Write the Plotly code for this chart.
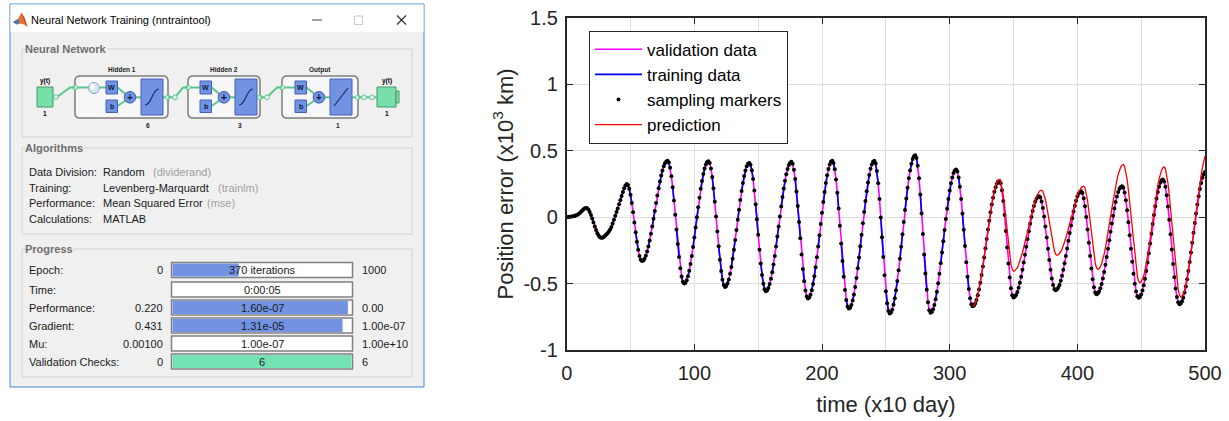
import plotly.graph_objects as go

W, H = 1229, 421

# ---------------- chart data ----------------
t = list(range(501))
position_error = [
    0.000, 0.002, 0.003, 0.004, 0.005, 0.007, 0.009, 0.012, 0.016, 0.022,
    0.030, 0.039, 0.049, 0.058, 0.065, 0.069, 0.068, 0.058, 0.040, 0.017,
    -0.010, -0.040, -0.070, -0.097, -0.120, -0.138, -0.150, -0.155, -0.154, -0.148,
    -0.140, -0.131, -0.120, -0.108, -0.093, -0.073, -0.048, -0.020, 0.010, 0.040,
    0.066, 0.097, 0.128, 0.160, 0.190, 0.217, 0.238, 0.250, 0.243, 0.214,
    0.168, 0.107, 0.037, -0.039, -0.114, -0.184, -0.245, -0.291, -0.320, -0.330,
    -0.325, -0.312, -0.289, -0.258, -0.220, -0.175, -0.124, -0.070, -0.012, 0.047,
    0.106, 0.164, 0.218, 0.269, 0.314, 0.352, 0.383, 0.406, 0.419, 0.424,
    0.411, 0.371, 0.308, 0.225, 0.126, 0.018, -0.093, -0.201, -0.300, -0.383,
    -0.446, -0.486, -0.499, -0.493, -0.474, -0.444, -0.402, -0.351, -0.291, -0.224,
    -0.152, -0.077, -0.001, 0.074, 0.146, 0.213, 0.273, 0.324, 0.366, 0.396,
    0.415, 0.421, 0.407, 0.367, 0.302, 0.217, 0.116, 0.005, -0.108, -0.219,
    -0.320, -0.405, -0.470, -0.510, -0.524, -0.518, -0.499, -0.468, -0.426, -0.374,
    -0.313, -0.245, -0.172, -0.097, -0.020, 0.056, 0.129, 0.197, 0.258, 0.310,
    0.352, 0.383, 0.402, 0.408, 0.394, 0.353, 0.287, 0.200, 0.097, -0.016,
    -0.132, -0.245, -0.348, -0.435, -0.501, -0.542, -0.556, -0.550, -0.532, -0.503,
    -0.463, -0.414, -0.356, -0.291, -0.220, -0.146, -0.070, 0.006, 0.080, 0.151,
    0.216, 0.274, 0.323, 0.363, 0.392, 0.410, 0.416, 0.401, 0.357, 0.287,
    0.194, 0.085, -0.036, -0.159, -0.280, -0.389, -0.482, -0.552, -0.596, -0.611,
    -0.604, -0.583, -0.549, -0.502, -0.444, -0.377, -0.301, -0.221, -0.136, -0.051,
    0.033, 0.114, 0.189, 0.257, 0.315, 0.362, 0.396, 0.417, 0.424, 0.408,
    0.360, 0.284, 0.184, 0.065, -0.065, -0.198, -0.329, -0.447, -0.547, -0.623,
    -0.671, -0.687, -0.680, -0.660, -0.627, -0.581, -0.524, -0.458, -0.384, -0.303,
    -0.218, -0.132, -0.045, 0.040, 0.121, 0.195, 0.261, 0.318, 0.364, 0.397,
    0.417, 0.424, 0.405, 0.347, 0.256, 0.137, -0.002, -0.150, -0.299, -0.437,
    -0.556, -0.647, -0.705, -0.724, -0.717, -0.695, -0.659, -0.610, -0.550, -0.479,
    -0.399, -0.313, -0.222, -0.129, -0.036, 0.055, 0.141, 0.221, 0.292, 0.352,
    0.401, 0.437, 0.459, 0.466, 0.446, 0.387, 0.293, 0.170, 0.027, -0.127,
    -0.280, -0.423, -0.546, -0.640, -0.699, -0.719, -0.712, -0.693, -0.660, -0.616,
    -0.561, -0.497, -0.425, -0.347, -0.265, -0.181, -0.096, -0.014, 0.064, 0.136,
    0.200, 0.255, 0.299, 0.332, 0.351, 0.358, 0.343, 0.299, 0.229, 0.136,
    0.027, -0.094, -0.217, -0.338, -0.447, -0.540, -0.610, -0.654, -0.669, -0.664,
    -0.648, -0.622, -0.587, -0.543, -0.492, -0.434, -0.370, -0.303, -0.233, -0.163,
    -0.093, -0.026, 0.038, 0.096, 0.147, 0.191, 0.226, 0.252, 0.268, 0.273,
    0.255, 0.203, 0.122, 0.017, -0.103, -0.228, -0.348, -0.453, -0.534, -0.586,
    -0.604, -0.599, -0.585, -0.563, -0.531, -0.492, -0.447, -0.396, -0.341, -0.283,
    -0.223, -0.163, -0.105, -0.050, 0.001, 0.046, 0.085, 0.117, 0.139, 0.153,
    0.158, 0.148, 0.118, 0.069, 0.005, -0.070, -0.153, -0.238, -0.321, -0.396,
    -0.460, -0.509, -0.539, -0.549, -0.544, -0.531, -0.509, -0.478, -0.440, -0.396,
    -0.346, -0.292, -0.235, -0.177, -0.119, -0.062, -0.008, 0.042, 0.086, 0.124,
    0.155, 0.177, 0.190, 0.195, 0.182, 0.143, 0.082, 0.002, -0.092, -0.192,
    -0.292, -0.386, -0.466, -0.527, -0.566, -0.579, -0.574, -0.559, -0.535, -0.502,
    -0.460, -0.412, -0.357, -0.299, -0.237, -0.173, -0.110, -0.048, 0.011, 0.066,
    0.114, 0.156, 0.189, 0.213, 0.228, 0.233, 0.221, 0.185, 0.128, 0.052,
    -0.038, -0.136, -0.237, -0.335, -0.425, -0.501, -0.558, -0.594, -0.606, -0.600,
    -0.582, -0.552, -0.512, -0.463, -0.405, -0.340, -0.271, -0.198, -0.125, -0.052,
    0.017, 0.082, 0.140, 0.189, 0.229, 0.259, 0.277, 0.283, 0.269, 0.229,
    0.165, 0.081, -0.019, -0.129, -0.242, -0.352, -0.452, -0.536, -0.600, -0.640,
    -0.654, -0.648, -0.632, -0.605, -0.567, -0.521, -0.466, -0.404, -0.337, -0.266,
    -0.192, -0.117, -0.043, 0.028, 0.095, 0.157, 0.212, 0.258, 0.296, 0.323,
    0.339,
]

train_end = 318
val_idx = [3, 7, 8, 12, 19, 22, 23, 29, 34, 38, 41, 45, 52, 53, 57, 63, 66, 70, 71,
           76, 82, 85, 89, 94, 97, 98, 104, 109, 113, 117, 118, 124, 128, 133, 136,
           141, 142, 147, 151, 156, 160, 163, 167, 172, 173, 178, 184, 187, 191, 196,
           199, 200, 205, 211, 214, 218, 223, 226, 227, 232, 238, 241, 245, 249, 254,
           255, 260, 264, 268, 273, 276, 279, 283, 288, 291, 292, 297, 302, 306, 309,
           313, 316]

pred_t = list(range(318, 501))
prediction = [
    -0.669, -0.664,
    -0.648, -0.622, -0.586, -0.542, -0.490, -0.431, -0.367, -0.299, -0.229, -0.157,
    -0.087, -0.019, 0.045, 0.104, 0.156, 0.200, 0.236, 0.262, 0.278, 0.283,
    0.269, 0.228, 0.164, 0.082, -0.013, -0.111, -0.205, -0.287, -0.351, -0.392,
    -0.406, -0.403, -0.394, -0.379, -0.358, -0.332, -0.301, -0.266, -0.228, -0.187,
    -0.145, -0.102, -0.058, -0.016, 0.025, 0.063, 0.098, 0.129, 0.155, 0.176,
    0.191, 0.200, 0.203, 0.195, 0.170, 0.131, 0.081, 0.022, -0.042, -0.105,
    -0.164, -0.214, -0.253, -0.278, -0.286, -0.283, -0.275, -0.260, -0.241, -0.217,
    -0.188, -0.156, -0.121, -0.084, -0.046, -0.007, 0.031, 0.068, 0.103, 0.135,
    0.164, 0.188, 0.207, 0.222, 0.230, 0.233, 0.220, 0.183, 0.125, 0.050,
    -0.036, -0.125, -0.210, -0.285, -0.343, -0.380, -0.393, -0.388, -0.374, -0.350,
    -0.318, -0.278, -0.230, -0.178, -0.120, -0.060, 0.002, 0.063, 0.123, 0.181,
    0.233, 0.281, 0.321, 0.353, 0.377, 0.391, 0.396, 0.383, 0.345, 0.284,
    0.204, 0.109, 0.005, -0.103, -0.207, -0.302, -0.382, -0.443, -0.481, -0.494,
    -0.488, -0.470, -0.441, -0.402, -0.353, -0.296, -0.233, -0.165, -0.094, -0.022,
    0.049, 0.117, 0.180, 0.237, 0.286, 0.325, 0.354, 0.372, 0.378, 0.364,
    0.322, 0.255, 0.167, 0.063, -0.052, -0.169, -0.284, -0.388, -0.476, -0.543,
    -0.585, -0.599, -0.593, -0.577, -0.549, -0.511, -0.464, -0.408, -0.344, -0.275,
    -0.201, -0.123, -0.045, 0.034, 0.112, 0.186, 0.255, 0.319, 0.375, 0.422,
    0.460,
]

x_ticks = [0, 100, 200, 300, 400, 500]
y_ticks = [-1, -0.5, 0, 0.5, 1, 1.5]
y_tick_text = ["-1", "-0.5", "0", "0.5", "1", "1.5"]
x_title = "time (x10 day)"
y_title = "Position error (x10<sup>3</sup> km)"

# ---------------- GUI panel text data ----------------
window_title = "Neural Network Training (nntraintool)"
alg_labels = ["Data Division:", "Training:", "Performance:", "Calculations:"]
alg_values = ["Random", "Levenberg-Marquardt", "Mean Squared Error", "MATLAB"]
alg_notes = ["(dividerand)", "(trainlm)", "(mse)", ""]
prog_labels = ["Epoch:", "Time:", "Performance:", "Gradient:", "Mu:", "Validation Checks:"]
prog_start = ["0", "", "0.220", "0.431", "0.00100", "0"]
prog_text = ["370 iterations", "0:00:05", "1.60e-07", "1.31e-05", "1.00e-07", "6"]
prog_end = ["1000", "", "0.00", "1.00e-07", "1.00e+10", "6"]
prog_fill = [0.37, 0.0, 0.98, 0.95, 0.0, 1.0]
layer_titles = ["Hidden 1", "Hidden 2", "Output"]
layer_sizes = ["6", "3", "1"]

# ---------------- figure ----------------
val_set = set(val_idx)
train_y = [position_error[i] if i not in val_set else None for i in range(train_end + 1)]

fig = go.Figure()
fig.add_trace(go.Scatter(x=t, y=position_error, mode='lines', name='validation data',
                         line=dict(color='#ff00ff', width=1.6)))
fig.add_trace(go.Scatter(x=t[:train_end + 1], y=train_y, mode='lines', name='training data',
                         line=dict(color='#0000ff', width=1.6), connectgaps=False))
fig.add_trace(go.Scatter(x=t, y=position_error, mode='markers', name='sampling markers',
                         marker=dict(color='black', size=4)))
fig.add_trace(go.Scatter(x=pred_t, y=prediction, mode='lines', name='prediction',
                         line=dict(color='#ff0000', width=1.3)))

AX = '#262626'
GRID = '#dedede'
CF = 'Liberation Sans'

shapes = []
annotations = []

GUI = 'Liberation Sans'
GS = 11
BLUE = '#7292e4'
BLUE_LINE = '#4462b4'
GREEN = '#78dfaa'
GREEN_LINE = '#3f9c6a'
CONN = '#5cc58f'
NONE = 'rgba(0,0,0,0)'


# pixel -> paper helpers (margins are zero, so paper == whole figure)
def X(x):
    return x / W


def Y(y):
    return 1 - y / H


def pt(x, y):
    return '%.5f,%.5f' % (X(x), Y(y))


def rect(x0, y0, x1, y1, fill=None, line=None, lw=1.0):
    shapes.append(dict(type='rect', xref='paper', yref='paper',
                       x0=X(x0), x1=X(x1), y0=Y(y1), y1=Y(y0),
                       fillcolor=fill if fill else NONE,
                       line=dict(color=line if line else NONE, width=lw if line else 0),
                       layer='above'))


def circle(cx, cy, r, fill, line, lw=1.0):
    shapes.append(dict(type='circle', xref='paper', yref='paper',
                       x0=X(cx - r), x1=X(cx + r), y0=Y(cy + r), y1=Y(cy - r),
                       fillcolor=fill, line=dict(color=line, width=lw), layer='above'))


def path(d, line, lw=1.0, fill=None):
    shapes.append(dict(type='path', xref='paper', yref='paper', path=d,
                       fillcolor=fill if fill else NONE,
                       line=dict(color=line if line else NONE, width=lw if line else 0),
                       layer='above'))


def poly(pts, color, lw=1.0):
    path('M' + ' L'.join(pt(*p) for p in pts), color, lw)


def fillpoly(pts, color):
    path('M' + ' L'.join(pt(*p) for p in pts) + ' Z', None, 0, color)


def rrect(x0, y0, x1, y1, r, fill, line, lw):
    d = (f"M{pt(x0 + r, y0)} L{pt(x1 - r, y0)} Q{pt(x1, y0)} {pt(x1, y0 + r)} "
         f"L{pt(x1, y1 - r)} Q{pt(x1, y1)} {pt(x1 - r, y1)} L{pt(x0 + r, y1)} "
         f"Q{pt(x0, y1)} {pt(x0, y1 - r)} L{pt(x0, y0 + r)} Q{pt(x0, y0)} {pt(x0 + r, y0)} Z")
    path(d, line, lw, fill)


def text(x, y, s, size=GS, color='#000000', anchor='left', bold=False, bg=None, family=GUI):
    a = dict(xref='paper', yref='paper', x=X(x), y=Y(y), text=('<b>%s</b>' % s) if bold else s,
             showarrow=False, xanchor=anchor, yanchor='middle',
             font=dict(size=size, color=color, family=family), borderpad=0, borderwidth=0)
    if bg:
        a['bgcolor'] = bg
    annotations.append(a)


# window frame
rect(10, 4, 424, 387, fill='#f0f0f0', line='#3f8ad6', lw=1)
rect(10.5, 4.5, 423.5, 32, fill='#ffffff')
# MATLAB icon
fillpoly([(13, 22), (18, 19), (21.5, 12.5), (24.5, 18), (27.5, 27), (24, 24.5), (20.5, 23.5), (17, 24.5)], '#e8722a')
fillpoly([(13, 22), (18, 19), (19.5, 22.5), (16.5, 24.5)], '#3b78b8')
fillpoly([(21.5, 12.5), (24.5, 18), (27.5, 27), (25, 23)], '#c0392b')
text(31, 19.5, window_title, size=11, color='#000000')
# window buttons
poly([(312, 20), (322, 20)], '#444444', 1)
rect(354.5, 16, 362.5, 24.5, line='#c8c8c8', lw=1)
poly([(397, 15.5), (406, 24.5)], '#333333', 1.2)
poly([(406, 15.5), (397, 24.5)], '#333333', 1.2)


def groupbox(x0, y0, x1, y1, label):
    rect(x0, y0, x1, y1, line='#d2d2d2', lw=1)
    text(x0 + 3, y0, label, size=GS, color='#6e6e6e', bold=True, bg='#f0f0f0')


groupbox(22, 49, 412, 137, "Neural Network")
groupbox(22, 148, 412, 234, "Algorithms")
groupbox(22, 249, 412, 377, "Progress")


# ---- network diagram ----
def junction(x, y):
    circle(x, y, 2.3, '#e9f9f0', CONN, 1)


# input block
rect(37, 87, 53, 107, fill=GREEN, line=GREEN_LINE, lw=1)
text(45, 81.5, "y(t)", size=6.5, bold=True, anchor='center')
text(45, 113, "1", size=6.5, bold=True, anchor='center')
# output block
rect(377, 87, 396, 107, fill=GREEN, line=GREEN_LINE, lw=1)
rect(396, 91, 399, 103, fill=GREEN, line=GREEN_LINE, lw=1)
text(387, 81.5, "y(t)", size=6.5, bold=True, anchor='center')
text(387, 113, "1", size=6.5, bold=True, anchor='center')

layers = [
    dict(L=75, R=168, wx=106, globe=True, kind='tansig'),
    dict(L=188, R=260, wx=200, globe=False, kind='tansig'),
    dict(L=282, R=358, wx=295, globe=False, kind='purelin'),
]
for i, ly in enumerate(layers):
    L, R, wx = ly['L'], ly['R'], ly['wx']
    rrect(L, 76, R, 118, 5, '#f7f7f7', '#7d7d7d', 1.5)
    text((L + R) / 2, 69.5, layer_titles[i], size=6.5, bold=True, anchor='center', color='#222222')
    text(R - 20, 125.5, layer_sizes[i], size=6.5, bold=True, anchor='center', color='#222222')
    pc = wx + 24
    tx0 = pc + 11
    if ly['globe']:
        poly([(L, 87.5), (88.5, 87.5)], CONN, 2)
        poly([(99.5, 87.5), (wx, 87.5)], CONN, 2)
        circle(94, 88, 5.5, '#d6e8f6', '#8aa6c4', 1)
        circle(92.5, 86.5, 2.2, '#ffffff', '#ffffff', 0.5)
    else:
        poly([(L, 87.5), (wx, 87.5)], CONN, 2)
    poly([(wx + 11.5, 87.5), (pc - 4.5, 94)], CONN, 2)
    poly([(wx + 11.5, 106), (pc - 4.5, 100.5)], CONN, 2)
    poly([(pc + 5.8, 97.3), (tx0, 97.3)], CONN, 2)
    poly([(tx0 + 22, 97.3), (R, 97.3)], CONN, 2)
    rect(wx, 81, wx + 11.5, 94, fill=BLUE, line=BLUE_LINE, lw=1)
    text(wx + 5.75, 87.5, "W", size=7, bold=True, anchor='center', color='#101840')
    rect(wx, 100, wx + 11.5, 112.5, fill=BLUE, line=BLUE_LINE, lw=1)
    text(wx + 5.75, 106.3, "b", size=7, bold=True, anchor='center', color='#101840')
    circle(pc, 97.3, 5.8, BLUE, '#3b57a8', 1)
    text(pc, 97.3, "+", size=10, bold=True, anchor='center', color='#101840')
    rect(tx0, 79, tx0 + 22, 115, fill=BLUE, line=BLUE_LINE, lw=1)
    if ly['kind'] == 'tansig':
        path(f"M{pt(tx0 + 4, 105)} C{pt(tx0 + 11, 105)} {pt(tx0 + 11, 89)} {pt(tx0 + 18, 89)}",
             '#1c2a5c', 1.2)
    else:
        poly([(tx0 + 4, 106), (tx0 + 18, 88)], '#1c2a5c', 1.2)
    junction(L, 87.5)
    junction(R, 97.3)

# connections between blocks
poly([(53, 97), (57, 97), (70, 87.5), (75, 87.5)], CONN, 2)
junction(56, 97)
poly([(168, 97.3), (175, 97.3), (183, 87.5), (188, 87.5)], CONN, 2)
junction(175, 97.3)
poly([(260, 97.3), (267, 97.3), (277, 87.5), (282, 87.5)], CONN, 2)
junction(267, 97.3)
poly([(358, 97.3), (377, 97.3)], CONN, 2)
junction(364, 97.3)
junction(372, 97.3)

# ---- algorithms ----
alg_y = [172, 187.5, 203.5, 219.5]
alg_note_x = [153, 218, 207, 0]
for i in range(len(alg_labels)):
    text(29, alg_y[i], alg_labels[i], color='#1a1a1a')
    text(103, alg_y[i], alg_values[i], color='#1a1a1a')
    if alg_notes[i]:
        text(alg_note_x[i], alg_y[i], alg_notes[i], color='#a0a0a0')

# ---- progress ----
prog_y = [270, 289.5, 307.5, 325.5, 343.5, 361.5]
bx0, bx1 = 171.5, 352.5
for i in range(len(prog_labels)):
    y = prog_y[i]
    text(29, y, prog_labels[i], color='#1a1a1a')
    if prog_start[i]:
        text(162.5, y, prog_start[i], color='#1a1a1a', anchor='right')
    if prog_end[i]:
        text(361.5, y, prog_end[i], color='#1a1a1a')
    rect(bx0, y - 7.5, bx1, y + 7.5, fill='#ffffff', line='#808080', lw=1.5)
    if prog_fill[i] > 0:
        col = '#74e2b2' if i == len(prog_labels) - 1 else BLUE
        rect(bx0 + 1, y - 6.5, bx0 + 1 + prog_fill[i] * (bx1 - bx0 - 2), y + 6.5, fill=col)
    text((bx0 + bx1) / 2, y, prog_text[i], color='#1a1a1a', anchor='center')

fig.update_layout(
    width=W, height=H,
    margin=dict(l=0, r=0, t=0, b=0, autoexpand=False),
    paper_bgcolor='white',
    plot_bgcolor='white',
    showlegend=True,
    legend=dict(x=589 / W, y=1 - 30.7 / H, xanchor='left', yanchor='top',
                bgcolor='white', bordercolor=AX, borderwidth=1, itemwidth=47,
                font=dict(family=CF, size=17, color='#000000')),
    xaxis=dict(domain=[566.7 / W, 1205 / W], range=[0, 500], tickvals=x_ticks,
               ticks='inside', ticklen=6, tickwidth=1.3, tickcolor=AX,
               showline=True, linecolor=AX, linewidth=1.6, mirror='ticks',
               showgrid=True, gridcolor=GRID, gridwidth=1,
               minor=dict(dtick=50, tick0=0, showgrid=True, gridcolor=GRID, gridwidth=1, ticks=''),
               zeroline=False, tickfont=dict(family=CF, size=20, color=AX),
               title=dict(text=x_title, font=dict(family=CF, size=22, color=AX), standoff=14),
               ticklabelstandoff=4, fixedrange=True, automargin=False),
    yaxis=dict(domain=[(H - 350.2) / H, (H - 17.7) / H], range=[-1, 1.5],
               tickvals=y_ticks, ticktext=y_tick_text,
               ticks='inside', ticklen=6, tickwidth=1.3, tickcolor=AX,
               showline=True, linecolor=AX, linewidth=1.6, mirror='ticks',
               showgrid=True, gridcolor=GRID, gridwidth=1,
               zeroline=False, tickfont=dict(family=CF, size=20, color=AX),
               title=dict(text=y_title, font=dict(family=CF, size=22, color=AX), standoff=4),
               ticklabelstandoff=3, fixedrange=True, automargin=False),
    shapes=shapes,
    annotations=annotations,
)

fig.write_html("out.html")
